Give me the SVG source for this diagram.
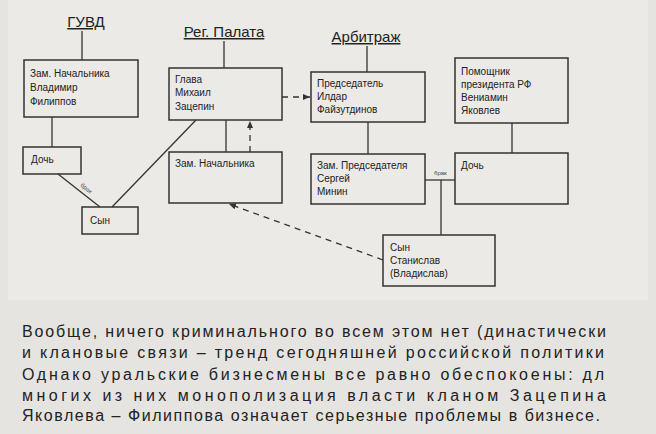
<svg xmlns="http://www.w3.org/2000/svg" width="656" height="434" viewBox="0 0 656 434">
<defs>
<marker id="ah" markerWidth="8" markerHeight="8" refX="7" refY="4" orient="auto" markerUnits="userSpaceOnUse"><path d="M0,1 L7,4 L0,7 Z" fill="#333"/></marker>
<style>
.b{fill:none;stroke:#333;stroke-width:1.5}
.t{font-family:"Liberation Sans",Arial,sans-serif;font-size:10px;fill:#222}
.h{font-family:"Liberation Sans",Arial,sans-serif;font-size:15px;fill:#222;text-decoration:underline}
.l{stroke:#333;stroke-width:1.3;fill:none}
.d{stroke:#333;stroke-width:1.3;fill:none;stroke-dasharray:6,5}
.p{font-family:"Liberation Sans",Arial,sans-serif;font-size:16px;fill:#222}
.s{font-family:"Liberation Sans",Arial,sans-serif;font-size:6px;fill:#444}
</style>
</defs>
<rect width="656" height="434" fill="#e6e4e0"/>
<rect x="8" y="0" width="640" height="300" fill="#eceae6"/>
<text class="h" x="86" y="27" text-anchor="middle">ГУВД</text>
<text class="h" x="224" y="37" text-anchor="middle">Рег. Палата</text>
<text class="h" x="366" y="42" text-anchor="middle">Арбитраж</text>
<g id="connectors">
<line class="l" x1="82" y1="31" x2="82" y2="60"/>
<line class="l" x1="224" y1="41" x2="224" y2="68"/>
<line class="l" x1="367" y1="46" x2="367" y2="72"/>
<line class="l" x1="52" y1="117" x2="52" y2="147"/>
<line class="l" x1="58" y1="174" x2="100" y2="207"/>
<text class="s" x="80" y="186" transform="rotate(38 80 186)">брак</text>
<line class="l" x1="196" y1="120" x2="112" y2="207"/>
<line class="l" x1="226" y1="120" x2="226" y2="152"/>
<line class="d" x1="250" y1="152" x2="250" y2="121" marker-end="url(#ah)"/>
<line class="d" x1="282" y1="97" x2="310" y2="97" marker-end="url(#ah)"/>
<line class="l" x1="368" y1="122" x2="368" y2="154"/>
<line class="l" x1="512" y1="123" x2="512" y2="153"/>
<line class="l" x1="425" y1="180" x2="455" y2="180"/>
<text class="s" x="434" y="175">брак</text>
<line class="l" x1="441" y1="180" x2="441" y2="235"/>
<line class="d" x1="383" y1="260" x2="229" y2="204" marker-end="url(#ah)"/>
</g>
<g id="n1"><rect class="b" x="24" y="60" width="114" height="57"/><text class="t" x="30" y="77">Зам. Начальника</text><text class="t" x="30" y="91">Владимир</text><text class="t" x="30" y="105">Филиппов</text></g>
<g id="n2"><rect class="b" x="23" y="147" width="58" height="27"/><text class="t" x="31" y="163">Дочь</text></g>
<g id="n3"><rect class="b" x="82" y="207" width="56" height="27"/><text class="t" x="90" y="224">Сын</text></g>
<g id="n4"><rect class="b" x="169" y="68" width="113" height="52"/><text class="t" x="175" y="83">Глава</text><text class="t" x="175" y="96">Михаил</text><text class="t" x="175" y="110">Зацепин</text></g>
<g id="n5"><rect class="b" x="169" y="152" width="113" height="51"/><text class="t" x="175" y="167">Зам. Начальника</text></g>
<g id="n6"><rect class="b" x="311" y="72" width="114" height="50"/><text class="t" x="317" y="87">Председатель</text><text class="t" x="317" y="100">Илдар</text><text class="t" x="317" y="113">Файзутдинов</text></g>
<g id="n7"><rect class="b" x="311" y="154" width="114" height="50"/><text class="t" x="317" y="169">Зам. Председателя</text><text class="t" x="317" y="182">Сергей</text><text class="t" x="317" y="195">Минин</text></g>
<g id="n8"><rect class="b" x="455" y="58" width="113" height="65"/><text class="t" x="461" y="75">Помощник</text><text class="t" x="461" y="88">президента РФ</text><text class="t" x="461" y="101">Вениамин</text><text class="t" x="461" y="114">Яковлев</text></g>
<g id="n9"><rect class="b" x="455" y="153" width="113" height="51"/><text class="t" x="461" y="169">Дочь</text></g>
<g id="n10"><rect class="b" x="383" y="235" width="112" height="51"/><text class="t" x="390" y="251">Сын</text><text class="t" x="390" y="264">Станислав</text><text class="t" x="390" y="277">(Владислав)</text></g>
<text class="p" x="22" y="337" textLength="584" lengthAdjust="spacing">Вообще, ничего криминального во всем этом нет (династически</text>
<text class="p" x="22" y="358" textLength="582" lengthAdjust="spacing">и клановые связи – тренд сегодняшней российской политики</text>
<text class="p" x="22" y="380" textLength="582" lengthAdjust="spacing">Однако уральские бизнесмены все равно обеспокоены: дл</text>
<text class="p" x="22" y="401" textLength="584" lengthAdjust="spacing">многих из них монополизация власти кланом Зацепина</text>
<text class="p" x="22" y="421" textLength="578" lengthAdjust="spacing">Яковлева – Филиппова означает серьезные проблемы в бизнесе.</text>
</svg>
